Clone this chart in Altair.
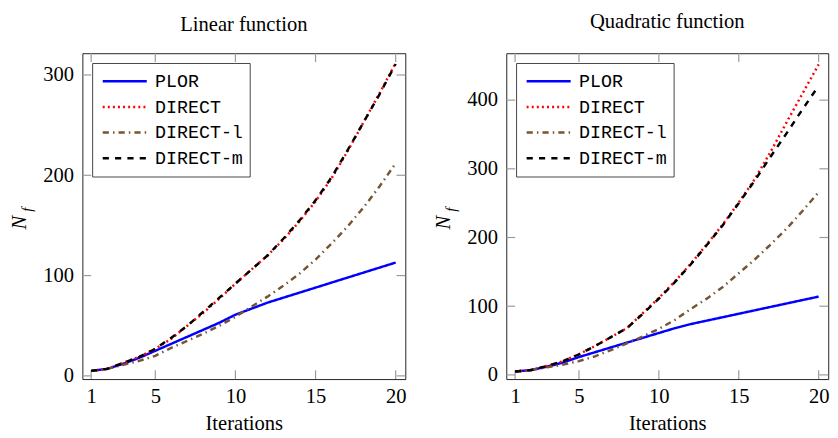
import altair as alt
import pandas as pd

methods = ["PLOR", "DIRECT", "DIRECT-l", "DIRECT-m"]
colors = ["#0000ff", "#ff0000", "#775533", "#000000"]
dashes = [[1, 0], [2, 3.2], [6.3, 4.2, 1.5, 4.2], [6.3, 6.3]]

iterations = list(range(1, 21))

# Linear function
lin_plor = [5, 7, 12, 18, 25, 32, 39, 46, 53, 61, 67, 73, 78, 83, 88, 93, 98, 103, 108, 113]
lin_direct = [5, 7, 13, 19, 27, 37, 50, 63, 77, 92, 106, 120, 136, 154, 174, 197, 224, 253, 282, 312]
lin_direct_l = [5, 7, 11, 15, 20, 28, 35, 42, 50, 59, 69, 79, 90, 102, 116, 132, 149, 168, 189, 212]
lin_direct_m = [5, 7, 13, 19, 27, 38, 50, 64, 78, 92, 106, 120, 137, 155, 175, 198, 225, 253, 281, 311]

# Quadratic function
quad_plor = [5, 7, 12, 18, 26, 33, 40, 47, 54, 61, 68, 74, 79, 84, 89, 94, 99, 104, 109, 114]
quad_direct = [5, 7, 13, 20, 30, 42, 55, 68, 90, 112, 136, 162, 190, 219, 251, 285, 325, 368, 410, 452]
quad_direct_l = [5, 7, 11, 15, 20, 27, 36, 46, 56, 67, 80, 96, 111, 128, 148, 168, 190, 213, 239, 266]
quad_direct_m = [5, 7, 13, 20, 30, 42, 55, 68, 89, 111, 135, 161, 189, 218, 250, 283, 318, 352, 387, 421]

x_ticks = [1, 5, 10, 15, 20]
lin_y_ticks = [0, 100, 200, 300]
quad_y_ticks = [0, 100, 200, 300, 400]

SERIF = "Liberation Serif"
MONO = "Liberation Mono"
H = 333
TICK_COLOR = "#9a9a9a"
TL = 9


def make_df(series):
    rows = []
    for m, vals in zip(methods, series):
        for i, v in zip(iterations, vals):
            rows.append({"iter": i, "value": v, "method": m})
    return pd.DataFrame(rows)


def panel(title, title_offset, series, y_domain, y_ticks, W):
    df = make_df(series)
    xs = alt.Scale(domain=[0.45, 20.6], nice=False, zero=False)
    ys = alt.Scale(domain=y_domain, nice=False, zero=False)
    legend = alt.Legend(
        title=None, orient="none", legendX=10, legendY=10,
        symbolType="stroke", symbolSize=2025, symbolStrokeWidth=2.5, symbolOffset=2.6,
        labelFont=MONO, labelFontSize=18.7, labelColor="black", labelOffset=7,
        clipHeight=24, rowPadding=2.2, padding=6.7,
        strokeColor="#444", fillColor="white", cornerRadius=0,
    )
    color = alt.Color("method:N", scale=alt.Scale(domain=methods, range=colors), legend=legend)
    dash = alt.StrokeDash("method:N", scale=alt.Scale(domain=methods, range=dashes), legend=legend)
    xaxis = alt.Axis(values=x_ticks, title="Iterations", ticks=False, tickSize=0, domain=False, grid=False,
                     labelFont=SERIF, labelFontSize=21, labelColor="black", labelPadding=6.5,
                     labelFlush=False, labelOverlap=False,
                     titleFont=SERIF, titleFontSize=21, titleFontWeight="normal", titleColor="black",
                     titleBaseline="alphabetic", titleY=51.5)
    yaxis = alt.Axis(values=y_ticks, title=None, ticks=False, tickSize=0, domain=False, grid=False,
                     labelFont=SERIF, labelFontSize=21, labelColor="black", labelPadding=9,
                     labelFlush=False, labelOverlap=False)
    X = alt.X("iter:Q", scale=xs, axis=xaxis)
    Y = alt.Y("value:Q", scale=ys, axis=yaxis)

    layers = []
    xt = pd.DataFrame({"iter": x_ticks})
    yt = pd.DataFrame({"value": y_ticks})
    rule = dict(color=TICK_COLOR, strokeWidth=1.2)
    layers.append(alt.Chart(xt).mark_rule(**rule).encode(x=X, y=alt.value(0), y2=alt.value(TL)))
    layers.append(alt.Chart(xt).mark_rule(**rule).encode(x=X, y=alt.value(H - TL), y2=alt.value(H)))
    layers.append(alt.Chart(yt).mark_rule(**rule).encode(y=Y, x=alt.value(0), x2=alt.value(TL)))
    layers.append(alt.Chart(yt).mark_rule(**rule).encode(y=Y, x=alt.value(W - TL), x2=alt.value(W)))
    for m in methods:
        layers.append(
            alt.Chart(df).transform_filter(alt.datum.method == m)
            .mark_line(strokeWidth=2.5)
            .encode(x=X, y=Y, color=color, strokeDash=dash)
        )
    one = pd.DataFrame({"t": [0]})
    layers.append(alt.Chart(one).mark_text(text="N", angle=270, font=SERIF, fontStyle="italic",
                                           fontSize=21, color="black", align="center", baseline="middle")
                  .encode(x=alt.value(-63.5), y=alt.value(173)))
    layers.append(alt.Chart(one).mark_text(text="f", angle=270, font=SERIF, fontStyle="italic",
                                           fontSize=15, color="black", align="center", baseline="middle")
                  .encode(x=alt.value(-56), y=alt.value(160)))
    return alt.layer(*layers).properties(
        width=W, height=H,
        title=alt.TitleParams(text=title, font=SERIF, fontSize=21, fontWeight="normal", color="black",
                              anchor="middle", offset=title_offset),
    )


left = panel("Linear function", 17.9,
             [lin_plor, lin_direct, lin_direct_l, lin_direct_m], [-3.2, 321.7], lin_y_ticks, 330)
right = panel("Quadratic function", 21.2,
              [quad_plor, quad_direct, quad_direct_l, quad_direct_m], [-6.1, 468.3], quad_y_ticks, 329)

chart = (
    alt.hconcat(left, right, spacing=26.2)
    .resolve_scale(color="independent", strokeDash="independent")
    .configure_view(stroke="#222", strokeWidth=1)
    .configure_axis(labelFont=SERIF, titleFont=SERIF)
    .properties(padding={"left": 1, "top": -2.5, "right": 0, "bottom": 0}, background="white")
)

chart.save("out.html", embed_options={"renderer": "svg", "actions": False})
